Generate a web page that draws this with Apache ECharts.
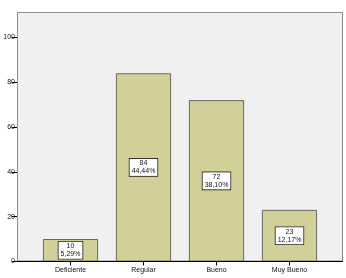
<!DOCTYPE html>
<html><head><meta charset="utf-8">
<script src="https://cdn.jsdelivr.net/npm/echarts@6/dist/echarts.min.js"></script>
<style>html,body{margin:0;padding:0;background:#fff}#c{width:346px;height:278px}</style>
</head><body><div id="c"></div>
<script>
const categories = ['Deficiente', 'Regular', 'Bueno', 'Muy Bueno'];
const counts = [10, 84, 72, 23];
const percents = ['5,29%', '44,44%', '38,10%', '12,17%'];
const yTicks = [0, 20, 40, 60, 80, 100];

const chart = echarts.init(document.getElementById('c'), null, {renderer: 'canvas'});
chart.setOption({
  animation: false,
  backgroundColor: '#ffffff',
  graphic: [
    {type: 'rect', z: -10, silent: true, shape: {x: 17.5, y: 12.5, width: 325, height: 248.5},
     style: {fill: '#f0f0f0', stroke: '#8c8c8c', lineWidth: 1}},
    {type: 'line', z: 10, silent: true, shape: {x1: 12, y1: 261.5, x2: 343, y2: 261.5},
     style: {stroke: '#000', lineWidth: 1}}
  ],
  grid: {left: 34, right: 20, top: 37.5, bottom: 16.5, containLabel: false},
  xAxis: {
    type: 'category', data: categories,
    axisLine: {show: false},
    axisTick: {show: true, alignWithLabel: true, length: 4, lineStyle: {color: '#000'}},
    axisLabel: {fontFamily: 'Liberation Sans', fontSize: 7, color: '#111', margin: 5}
  },
  yAxis: {
    type: 'value', min: 0, max: 100, interval: 20, offset: 17,
    axisLine: {show: false},
    axisTick: {show: true, length: 5, lineStyle: {color: '#000'}},
    splitLine: {show: false},
    axisLabel: {fontFamily: 'Liberation Sans', fontSize: 7, color: '#111', margin: 2,
      formatter: v => yTicks.includes(v) ? String(v) : ''}
  },
  series: [{
    type: 'bar', barWidth: 55,
    data: counts,
    itemStyle: {color: '#d3cf98', borderColor: '#4a4a4a', borderWidth: 0.8},
    label: {
      show: true, position: 'inside',
      formatter: p => counts[p.dataIndex] + '\n' + percents[p.dataIndex],
      fontFamily: 'Liberation Sans', fontSize: 7, color: '#111', lineHeight: 8,
      backgroundColor: '#fff', borderColor: '#222', borderWidth: 0.8, padding: [1, 2, 0, 2]
    }
  }]
});
</script></body></html>
